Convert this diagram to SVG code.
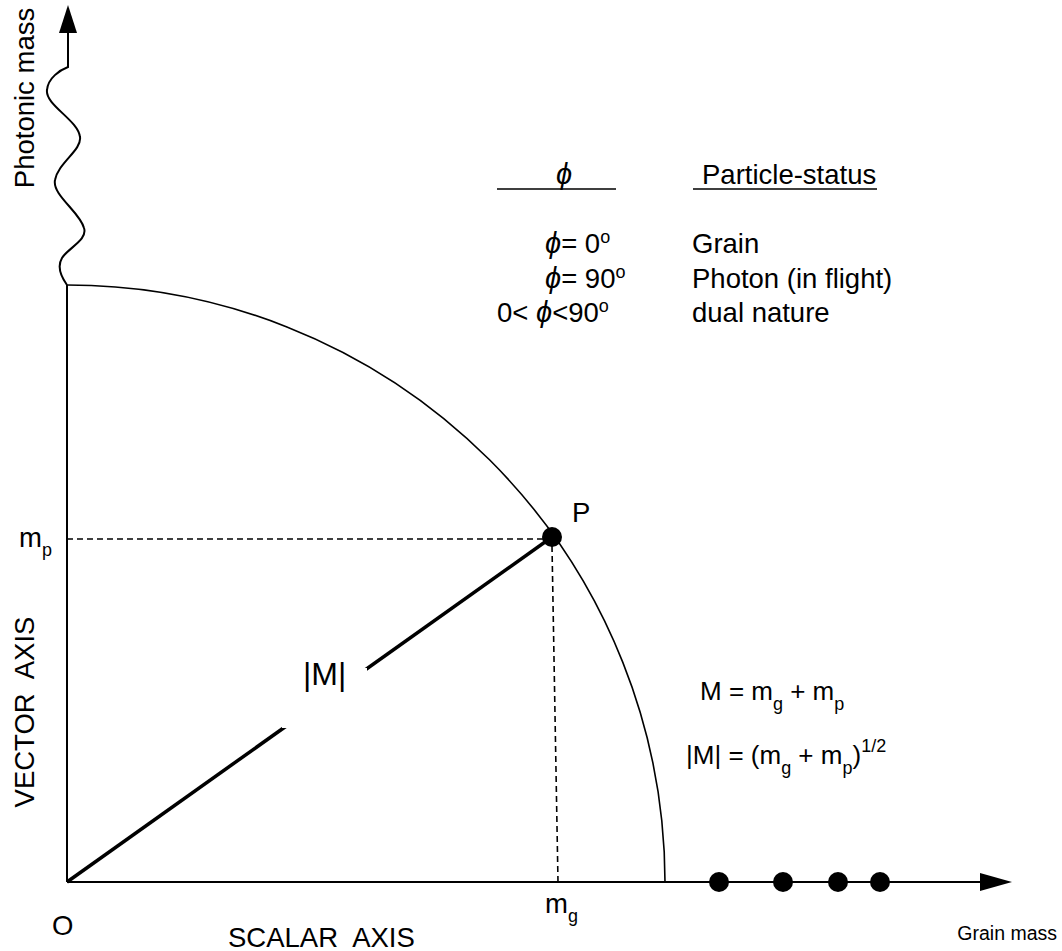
<svg xmlns="http://www.w3.org/2000/svg" width="1062" height="951" viewBox="0 0 1062 951">
<defs>
<style>
text{font-family:"Liberation Sans",Arial,sans-serif;font-size:27.5px;fill:#000}
.sub{font-size:18px}
.phi{font-style:italic;font-size:29px}
.ax{stroke:#000;stroke-width:2;fill:none}
.thin{stroke:#000;stroke-width:1.6;fill:none}
.dash{stroke:#000;stroke-width:1.6;stroke-dasharray:6,4;fill:none}
.dot{fill:#000}
</style>
</defs>
<rect width="1062" height="951" fill="#fff"/>
<g id="connectors">
<path class="ax" d="M67,882 L67,285"/>
<path class="ax" d="M67,285 C62,278 56,268 62,258 C68,248 88,240 84,228 C80,212 52,195 55,180 C58,163 82,150 80,137 C78,120 45,105 47,90 C48,78 60,70 68,67 L68,30"/>
<polygon points="68,5 59,33 77,33" fill="#000"/>
<path class="ax" d="M67,882 L985,882"/>
<polygon points="1012,882 980,873 980,891" fill="#000"/>
<path class="thin" d="M67,285 A598,598 0 0 1 665,882"/>
<path class="dash" d="M67,539 L546,539"/>
<path class="dash" d="M552,546 L558,882"/>
<path stroke="#000" stroke-width="3.5" d="M67,882 L552,537"/>
<path class="thin" d="M497,189 L616,189 M693,189 L877,189"/>
</g>
<g id="node-P"><circle class="dot" cx="552" cy="537" r="10"/><text x="572" y="522">P</text></g>
<g id="node-dots">
<circle class="dot" cx="719" cy="882" r="10"/>
<circle class="dot" cx="783" cy="882" r="10"/>
<circle class="dot" cx="838" cy="882" r="10"/>
<circle class="dot" cx="880" cy="882" r="10"/>
</g>
<g id="node-M"><rect x="282" y="668" width="85" height="60" fill="#fff"/><text x="303" y="685" style="font-size:32px">|M|</text></g>
<g id="labels">
<text transform="translate(34,98) rotate(-90)" text-anchor="middle">Photonic mass</text>
<text transform="translate(34,712) rotate(-90)" text-anchor="middle" style="word-spacing:8px">VECTOR AXIS</text>
<text x="19" y="547">m<tspan class="sub" dy="9">p</tspan></text>
<text x="545" y="913">m<tspan class="sub" dy="9">g</tspan></text>
<text x="52" y="935">O</text>
<text x="228" y="947" style="word-spacing:8px">SCALAR AXIS</text>
<text x="1057" y="940" text-anchor="end" style="font-size:19.5px">Grain mass</text>
</g>
<g id="table">
<text x="556" y="184" class="phi">ϕ</text>
<text x="702" y="184">Particle-status</text>
<text x="545" y="253"><tspan class="phi">ϕ</tspan>= 0<tspan class="sub" dy="-10">o</tspan></text>
<text x="545" y="288"><tspan class="phi">ϕ</tspan>= 90<tspan class="sub" dy="-10">o</tspan></text>
<text x="497" y="322">0&lt; <tspan class="phi">ϕ</tspan>&lt;90<tspan class="sub" dy="-10">o</tspan></text>
<text x="692" y="253">Grain</text>
<text x="692" y="288">Photon (in flight)</text>
<text x="692" y="322">dual nature</text>
</g>
<g id="formulas">
<text x="700" y="700" style="font-size:26px">M = m<tspan class="sub" dy="10">g</tspan><tspan dy="-10"> + m</tspan><tspan class="sub" dy="10">p</tspan></text>
<text x="686" y="764" style="font-size:26px">|M| = (m<tspan class="sub" dy="10">g</tspan><tspan dy="-10"> + m</tspan><tspan class="sub" dy="10">p</tspan><tspan dy="-10">)</tspan><tspan class="sub" dy="-12">1/2</tspan></text>
</g>
</svg>
